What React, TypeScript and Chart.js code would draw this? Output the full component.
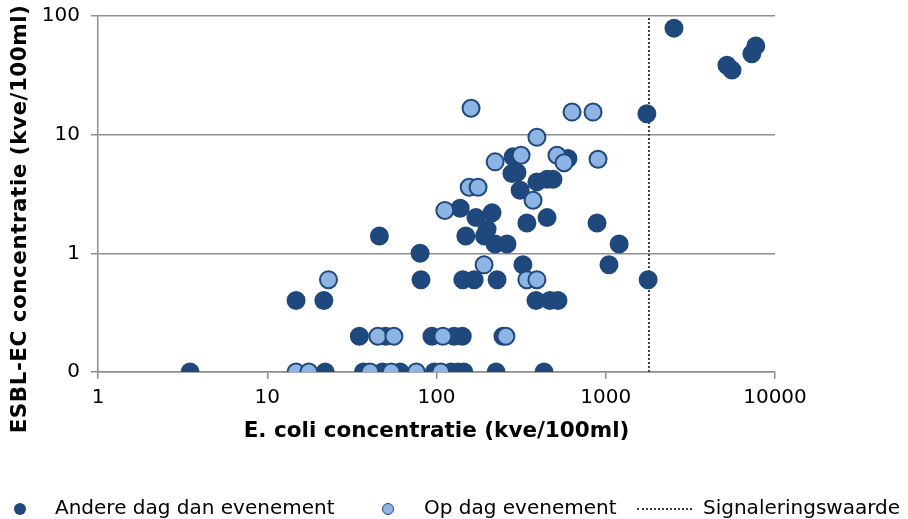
import React, { useEffect, useRef } from 'react';
import { Chart, registerables } from 'chart.js';

Chart.register(...registerables);

// ---- data ----
const SERIES_NAMES = ['Andere dag dan evenement', 'Op dag evenement', 'Signaleringswaarde'];
const X_TITLE = 'E. coli concentratie (kve/100ml)';
const Y_TITLE = 'ESBL-EC concentratie (kve/100ml)';
const X_TICKS = [1, 10, 100, 1000, 10000];
const X_TICK_LABELS = ['1', '10', '100', '1000', '10000'];
const Y_TICKS = [0.1, 1, 10, 100];
const Y_TICK_LABELS = ['0', '1', '10', '100'];
const ZERO_AT = 0.1; // a value of 0 is drawn at the "0" tick of the log axis
const SIGNAL_VALUE = 1800;

// Andere dag dan evenement
const otherDayX = [
  3.5, 22, 37, 48, 61, 97, 122, 134, 145, 225, 432,
  35, 50, 94, 127, 142, 247,
  14.8, 21.6, 387, 468, 522,
  81, 143, 167, 228, 1780,
  324, 1045,
  80,
  46, 149, 192, 222, 261, 1200,
  199,
  342, 888,
  171, 450, 213, 138,
  312,
  392, 450, 488,
  279, 299,
  283, 598,
  1750,
  2530, 5200, 5570, 7300, 7700,
];
const otherDayY = [
  0, 0, 0, 0, 0, 0, 0, 0, 0, 0, 0,
  0.2, 0.2, 0.2, 0.2, 0.2, 0.2,
  0.4, 0.4, 0.4, 0.4, 0.4,
  0.6, 0.6, 0.6, 0.6, 0.6,
  0.8, 0.8,
  1.0,
  1.4, 1.4, 1.4, 1.2, 1.2, 1.2,
  1.6,
  1.8, 1.8,
  2.0, 2.0, 2.2, 2.4,
  3.4,
  4.0, 4.2, 4.2,
  4.7, 4.8,
  6.5, 6.3,
  15,
  79, 38.5, 35, 48, 56,
];

// Op dag evenement
const eventDayX = [
  14.8, 17.6, 40.5, 54, 76, 106,
  45, 56, 109, 257,
  23, 342, 392,
  191,
  112, 156, 176, 372,
  222, 316, 515, 567, 900,
  392,
  160, 632, 841,
];
const eventDayY = [
  0, 0, 0, 0, 0, 0,
  0.2, 0.2, 0.2, 0.2,
  0.6, 0.6, 0.6,
  0.8,
  2.3, 3.6, 3.6, 2.8,
  5.9, 6.7, 6.7, 5.8, 6.2,
  9.5,
  16.7, 15.5, 15.5,
];

// ---- styles ----
const FONT = '"DejaVu Sans", Verdana, sans-serif';
const DARK = '#1F497D';
const LIGHT = '#8DB4E2';
const GRID = '#8e8e8e';
const SIGNAL_COLOR = '#404040';

const toPoints = (xs: number[], ys: number[]) =>
  xs.map((x, i) => ({ x, y: ys[i] === 0 ? ZERO_AT : ys[i] }));

const yTitlePlugin = {
  id: 'yTitleRotated',
  afterDraw(chart: any) {
    const ctx = chart.ctx;
    ctx.save();
    ctx.translate(20.5, 219);
    ctx.rotate(-Math.PI / 2);
    ctx.font = `bold 21.5px ${FONT}`;
    try {
      (ctx as any).letterSpacing = '0.5px';
    } catch (e) {
      /* ignore */
    }
    ctx.fillStyle = '#000';
    ctx.textAlign = 'center';
    ctx.textBaseline = 'middle';
    ctx.fillText(Y_TITLE, 0, 0);
    ctx.restore();
  },
};

export default function App() {
  const canvasRef = useRef<HTMLCanvasElement>(null);

  useEffect(() => {
    if (!canvasRef.current) return;
    const chart = new Chart(canvasRef.current, {
      type: 'scatter',
      data: {
        datasets: [
          {
            label: SERIES_NAMES[1],
            data: toPoints(eventDayX, eventDayY),
            backgroundColor: LIGHT,
            borderColor: DARK,
            borderWidth: 2,
            pointRadius: 8.5,
            order: 1,
          },
          {
            label: SERIES_NAMES[0],
            data: toPoints(otherDayX, otherDayY),
            backgroundColor: DARK,
            borderColor: DARK,
            borderWidth: 2,
            pointRadius: 8.5,
            order: 2,
          },
          {
            type: 'line',
            label: SERIES_NAMES[2],
            data: [
              { x: SIGNAL_VALUE, y: Y_TICKS[0] },
              { x: SIGNAL_VALUE, y: Y_TICKS[Y_TICKS.length - 1] },
            ],
            borderColor: SIGNAL_COLOR,
            borderWidth: 2,
            borderDash: [2, 2],
            pointRadius: 0,
            showLine: true,
            order: 3,
          } as any,
        ],
      },
      options: {
        animation: false,
        responsive: true,
        maintainAspectRatio: false,
        events: [],
        layout: { padding: { top: 16, right: 133, bottom: 71, left: 0 } },
        plugins: {
          legend: { display: false },
          tooltip: { enabled: false },
        },
        scales: {
          x: {
            type: 'logarithmic',
            min: X_TICKS[0],
            max: X_TICKS[X_TICKS.length - 1],
            afterBuildTicks: (s: any) => {
              s.ticks = X_TICKS.map((v) => ({ value: v }));
            },
            afterFit: (s: any) => {
              s.height = 76;
            },
            ticks: {
              callback: (_v: any, i: number) => X_TICK_LABELS[i],
              font: { family: FONT, size: 20 },
              color: '#000',
              padding: 7,
              maxRotation: 0,
              autoSkip: false,
            },
            grid: {
              drawOnChartArea: false,
              drawTicks: true,
              tickLength: 7,
              color: GRID,
              lineWidth: 1.5,
            },
            border: { color: GRID, width: 1.5 },
            title: {
              display: true,
              text: X_TITLE,
              color: '#000',
              font: { family: FONT, size: 21.5, weight: 'bold' },
              padding: { top: 4, bottom: 4 },
            },
          },
          y: {
            type: 'logarithmic',
            min: Y_TICKS[0],
            max: Y_TICKS[Y_TICKS.length - 1],
            afterBuildTicks: (s: any) => {
              s.ticks = Y_TICKS.map((v) => ({ value: v }));
            },
            afterFit: (s: any) => {
              s.width = 98;
              s.paddingTop = 0;
              s.paddingBottom = 0;
            },
            ticks: {
              callback: (_v: any, i: number) => Y_TICK_LABELS[i],
              font: { family: FONT, size: 20 },
              color: '#000',
              padding: 11,
              autoSkip: false,
            },
            grid: {
              color: GRID,
              lineWidth: 1.5,
              tickLength: 7,
            },
            border: { color: GRID, width: 1.5 },
          },
        },
      },
      plugins: [yTitlePlugin],
    } as any);
    return () => chart.destroy();
  }, []);

  const legendText: React.CSSProperties = {
    position: 'absolute',
    top: 495,
    font: `20px ${FONT}`,
    lineHeight: '24px',
    color: '#000',
    whiteSpace: 'nowrap',
  };
  const dot: React.CSSProperties = {
    position: 'absolute',
    top: 503,
    width: 12,
    height: 12,
    borderRadius: '50%',
    boxSizing: 'border-box',
  };

  return (
    <div style={{ position: 'absolute', left: 0, top: 0, width: 908, height: 519, background: '#fff' }}>
      <div style={{ position: 'absolute', left: 0, top: 0, width: 908, height: 519 }}>
        <canvas ref={canvasRef} />
      </div>
      <span style={{ ...dot, left: 14, background: DARK }} />
      <span style={{ ...legendText, left: 55 }}>{SERIES_NAMES[0]}</span>
      <span style={{ ...dot, left: 382, background: LIGHT, border: `1.5px solid ${DARK}` }} />
      <span style={{ ...legendText, left: 424 }}>{SERIES_NAMES[1]}</span>
      <span
        style={{
          position: 'absolute',
          left: 637,
          top: 508,
          width: 55,
          height: 0,
          borderTop: `2px dotted ${SIGNAL_COLOR}`,
        }}
      />
      <span style={{ ...legendText, left: 703 }}>{SERIES_NAMES[2]}</span>
    </div>
  );
}
